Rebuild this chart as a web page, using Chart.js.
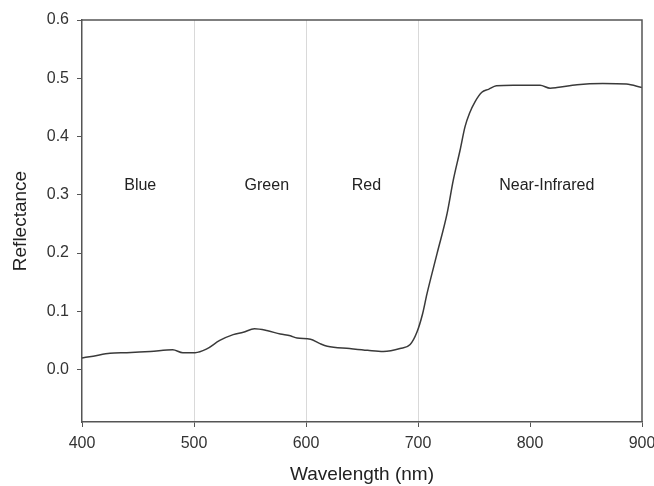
<!DOCTYPE html>
<html>
<head>
<meta charset="utf-8">
<script src="https://cdn.jsdelivr.net/npm/chart.js@4/dist/chart.umd.min.js"></script>
<style>
  html, body { margin: 0; padding: 0; background: #fff; }
  #wrap { width: 654px; height: 486px; }
</style>
</head>
<body>
<div id="wrap"><canvas id="chart" width="654" height="486"></canvas></div>
<script>
const wavelengths = [400, 410, 425, 440, 461, 481, 490, 501, 511, 523, 535, 544, 554, 565, 577, 586, 592, 604, 612, 619, 639, 655, 669, 684, 693, 699, 704, 708, 717, 726, 731.5, 737.5, 742, 746, 751, 757, 763, 770, 785, 809, 818, 824, 842, 865, 886, 900];
const reflectance = [0.020, 0.023, 0.028, 0.029, 0.031, 0.034, 0.029, 0.029, 0.035, 0.050, 0.060, 0.064, 0.070, 0.067, 0.061, 0.058, 0.054, 0.052, 0.045, 0.040, 0.036, 0.033, 0.031, 0.036, 0.043, 0.064, 0.095, 0.130, 0.199, 0.268, 0.325, 0.376, 0.417, 0.440, 0.460, 0.476, 0.481, 0.487, 0.488, 0.488, 0.483, 0.484, 0.489, 0.491, 0.490, 0.484];

const xTicks = [400, 500, 600, 700, 800, 900];
const yTicks = [0.0, 0.1, 0.2, 0.3, 0.4, 0.5, 0.6];
const bandEdges = [500, 600, 700];
const bandNames = ["Blue", "Green", "Red", "Near-Infrared"];
const bandLabelX = [452, 565, 654, 815];
const bandLabelY = 0.316;

const FONT = "'Liberation Sans', Arial, sans-serif";
const AXIS = "#555";

// box around plot area + band names
const framePlugin = {
  id: "frame",
  afterDatasetsDraw(chart) {
    const { ctx, chartArea: a, scales } = chart;
    ctx.save();
    ctx.strokeStyle = AXIS;
    ctx.lineWidth = 1.5;
    ctx.beginPath();
    ctx.moveTo(a.left, a.top);
    ctx.lineTo(a.right, a.top);
    ctx.lineTo(a.right, a.bottom);
    ctx.stroke();

    ctx.fillStyle = "#222";
    ctx.font = "16px " + FONT;
    ctx.textAlign = "center";
    ctx.textBaseline = "middle";
    bandNames.forEach((name, i) => {
      ctx.fillText(name, scales.x.getPixelForValue(bandLabelX[i]), scales.y.getPixelForValue(bandLabelY));
    });
    ctx.restore();
  },
};

new Chart(document.getElementById("chart"), {
  type: "line",
  data: {
    datasets: [
      {
        data: wavelengths.map((w, i) => ({ x: w, y: reflectance[i] })),
        borderColor: "#3a3a3a",
        borderWidth: 1.5,
        pointRadius: 0,
        tension: 0.3,
        cubicInterpolationMode: "monotone",
        fill: false,
      },
    ],
  },
  options: {
    responsive: false,
    animation: false,
    layout: { padding: { left: 0, right: 0, top: 20, bottom: 0 } },
    plugins: { legend: { display: false }, tooltip: { enabled: false } },
    scales: {
      x: {
        type: "linear",
        min: 400,
        max: 900,
        afterBuildTicks: (s) => { s.ticks = xTicks.map((v) => ({ value: v })); },
        afterFit: (s) => { s.height = 64; s.paddingRight = 12; },
        ticks: { color: "#333", font: { family: FONT, size: 16 }, padding: 7, maxRotation: 0 },
        grid: {
          color: (c) => (c.tick && bandEdges.includes(c.tick.value) ? "#d9d9d9" : "rgba(0,0,0,0)"),
          tickColor: AXIS,
          tickLength: 5,
          lineWidth: 1,
        },
        border: { color: AXIS, width: 1.5 },
        title: { display: true, text: "Wavelength (nm)", color: "#222", font: { family: FONT, size: 19 }, padding: { top: 0, bottom: 0 } },
      },
      y: {
        min: -0.09,
        max: 0.6,
        afterBuildTicks: (s) => { s.ticks = yTicks.map((v) => ({ value: v })); },
        afterFit: (s) => { s.width = 82; },
        ticks: { color: "#333", font: { family: FONT, size: 16 }, padding: 8, callback: (v) => Number(v).toFixed(1) },
        grid: { drawOnChartArea: false, tickColor: AXIS, tickLength: 5 },
        border: { color: AXIS, width: 1.5 },
        title: { display: true, text: "Reflectance", color: "#222", font: { family: FONT, size: 19 }, padding: { top: 9, bottom: 0 } },
      },
    },
  },
  plugins: [framePlugin],
});
</script>
</body>
</html>
